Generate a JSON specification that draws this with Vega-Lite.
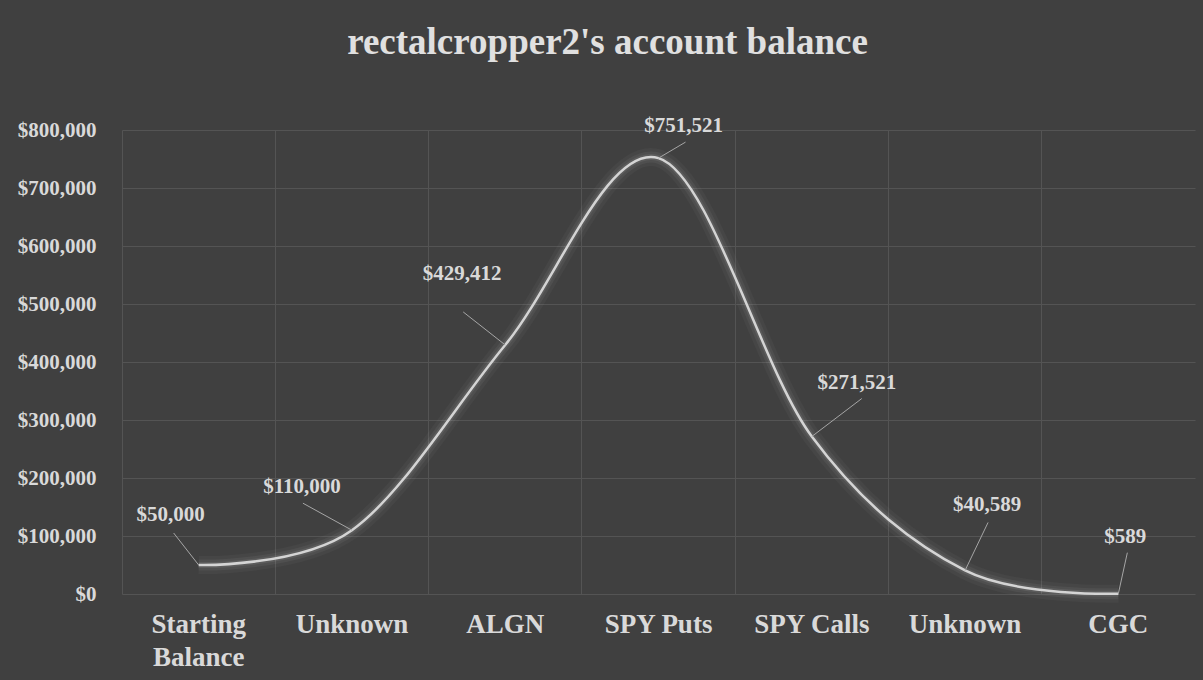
{
  "$schema": "https://vega.github.io/schema/vega-lite/v6.json",
  "width": 1073,
  "height": 464,
  "autosize": "none",
  "padding": {"left": 122, "top": 130, "right": 8, "bottom": 86},
  "background": "#404040",
  "config": {"view": {"stroke": null}, "font": "Liberation Serif"},
  "title": {
    "text": "rectalcropper2's account balance",
    "fontSize": 37,
    "fontWeight": "bold",
    "color": "#e0e0e0",
    "font": "Liberation Serif",
    "offset": 53,
    "dx": -51
  },
  "data": {
    "values": [
      {"step": "Starting Balance", "value": 50000},
      {"step": "Unknown", "value": 110000},
      {"step": "ALGN", "value": 429412},
      {"step": "SPY Puts", "value": 751521},
      {"step": "SPY Calls", "value": 271521},
      {"step": "Unknown ", "value": 40589},
      {"step": "CGC", "value": 589}
    ]
  },
  "encoding": {
    "x": {
      "field": "step",
      "type": "nominal",
      "sort": null,
      "scale": {"paddingInner": 0, "paddingOuter": 0},
      "axis": {
        "title": null,
        "domain": false,
        "ticks": false,
        "grid": true,
        "bandPosition": 0,
        "gridColor": "#545454",
        "gridWidth": 1,
        "labelAngle": 0,
        "labelFont": "Liberation Serif",
        "labelFontSize": 27,
        "labelFontWeight": "bold",
        "labelColor": "#d9d9d9",
        "labelPadding": 17,
        "labelLineHeight": 33,
        "labelExpr": "datum.value == 'Starting Balance' ? ['Starting', 'Balance'] : datum.label"
      }
    },
    "y": {
      "field": "value",
      "type": "quantitative",
      "scale": {"domain": [0, 800000], "nice": false},
      "axis": {
        "title": null,
        "domain": false,
        "ticks": false,
        "values": [0, 100000, 200000, 300000, 400000, 500000, 600000, 700000, 800000],
        "format": "$,.0f",
        "gridColor": "#545454",
        "gridWidth": 1,
        "labelFont": "Liberation Serif",
        "labelFontSize": 21,
        "labelFontWeight": "bold",
        "labelColor": "#d9d9d9",
        "labelPadding": 26
      }
    }
  },
  "layer": [
    {"mark": {"type": "line", "interpolate": "cardinal", "tension": 0, "color": "#ffffff", "strokeWidth": 18, "opacity": 0.03}},
    {"mark": {"type": "line", "interpolate": "cardinal", "tension": 0, "color": "#ffffff", "strokeWidth": 11, "opacity": 0.05}},
    {"mark": {"type": "line", "interpolate": "cardinal", "tension": 0, "color": "#ffffff", "strokeWidth": 6, "opacity": 0.08}},
    {"mark": {"type": "line", "interpolate": "cardinal", "tension": 0, "color": "#d4d4d4", "strokeWidth": 2.5}},
    {
      "transform": [{"filter": "datum.step == 'Starting Balance'"}],
      "layer": [
        {"mark": {"type": "rule", "color": "#a6a6a6", "strokeWidth": 1, "x2Offset": -25, "y2Offset": -32}, "encoding": {"x2": {"field": "step"}, "y2": {"field": "value"}}},
        {"mark": {"type": "text", "dx": -28, "dy": -50, "font": "Liberation Serif", "fontSize": 21, "fontWeight": "bold", "color": "#d9d9d9"}, "encoding": {"text": {"field": "value", "format": "$,.0f"}}}
      ]
    },
    {
      "transform": [{"filter": "datum.step == 'Unknown'"}],
      "layer": [
        {"mark": {"type": "rule", "color": "#a6a6a6", "strokeWidth": 1, "x2Offset": -49, "y2Offset": -27}, "encoding": {"x2": {"field": "step"}, "y2": {"field": "value"}}},
        {"mark": {"type": "text", "dx": -50, "dy": -43, "font": "Liberation Serif", "fontSize": 21, "fontWeight": "bold", "color": "#d9d9d9"}, "encoding": {"text": {"field": "value", "format": "$,.0f"}}}
      ]
    },
    {
      "transform": [{"filter": "datum.step == 'ALGN'"}],
      "layer": [
        {"mark": {"type": "rule", "color": "#a6a6a6", "strokeWidth": 1, "x2Offset": -42, "y2Offset": -33}, "encoding": {"x2": {"field": "step"}, "y2": {"field": "value"}}},
        {"mark": {"type": "text", "dx": -43, "dy": -71, "font": "Liberation Serif", "fontSize": 21, "fontWeight": "bold", "color": "#d9d9d9"}, "encoding": {"text": {"field": "value", "format": "$,.0f"}}}
      ]
    },
    {
      "transform": [{"filter": "datum.step == 'SPY Puts'"}],
      "layer": [
        {"mark": {"type": "rule", "color": "#a6a6a6", "strokeWidth": 1, "x2Offset": 27, "y2Offset": -16}, "encoding": {"x2": {"field": "step"}, "y2": {"field": "value"}}},
        {"mark": {"type": "text", "dx": 25, "dy": -32, "font": "Liberation Serif", "fontSize": 21, "fontWeight": "bold", "color": "#d9d9d9"}, "encoding": {"text": {"field": "value", "format": "$,.0f"}}}
      ]
    },
    {
      "transform": [{"filter": "datum.step == 'SPY Calls'"}],
      "layer": [
        {"mark": {"type": "rule", "color": "#a6a6a6", "strokeWidth": 1, "x2Offset": 50, "y2Offset": -38}, "encoding": {"x2": {"field": "step"}, "y2": {"field": "value"}}},
        {"mark": {"type": "text", "dx": 45, "dy": -54, "font": "Liberation Serif", "fontSize": 21, "fontWeight": "bold", "color": "#d9d9d9"}, "encoding": {"text": {"field": "value", "format": "$,.0f"}}}
      ]
    },
    {
      "transform": [{"filter": "datum.step == 'Unknown '"}],
      "layer": [
        {"mark": {"type": "rule", "color": "#a6a6a6", "strokeWidth": 1, "x2Offset": 23, "y2Offset": -48}, "encoding": {"x2": {"field": "step"}, "y2": {"field": "value"}}},
        {"mark": {"type": "text", "dx": 22, "dy": -65, "font": "Liberation Serif", "fontSize": 21, "fontWeight": "bold", "color": "#d9d9d9"}, "encoding": {"text": {"field": "value", "format": "$,.0f"}}}
      ]
    },
    {
      "transform": [{"filter": "datum.step == 'CGC'"}],
      "layer": [
        {"mark": {"type": "rule", "color": "#a6a6a6", "strokeWidth": 1, "x2Offset": 9, "y2Offset": -41}, "encoding": {"x2": {"field": "step"}, "y2": {"field": "value"}}},
        {"mark": {"type": "text", "dx": 7, "dy": -57, "font": "Liberation Serif", "fontSize": 21, "fontWeight": "bold", "color": "#d9d9d9"}, "encoding": {"text": {"field": "value", "format": "$,.0f"}}}
      ]
    }
  ]
}
